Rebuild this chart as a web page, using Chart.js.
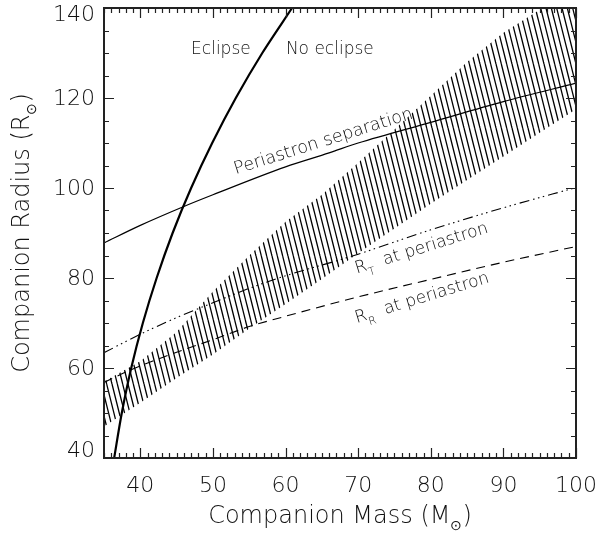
<!DOCTYPE html>
<html lang="en">
<head>
    <meta charset="UTF-8">
    <title>Companion Radius vs Mass</title>
    <script src="https://cdn.jsdelivr.net/npm/chart.js"></script>
    <style>
        body { margin: 0; background: #fff; }
        #wrap { width: 598px; height: 533px; position: relative; }
    </style>
</head>
<body>
    <div id="wrap"><canvas id="chart"></canvas></div>

    <script>
        // values
        const xTicks = [40, 50, 60, 70, 80, 90, 100];
        const yTicks = [40, 60, 80, 100, 120, 140];

        const eclipseMass = [36.4, 37.45, 38.75, 40.35, 42.25, 44.45, 47.0, 49.9, 53.15, 56.8, 60.9];
        const eclipseRadius = [40, 50, 60, 70, 80, 90, 100, 110, 120, 130, 140];

        const sepMass = [35, 40, 46, 50, 60, 66, 70, 80, 90, 100];
        const sepRadius = [87.8, 91.7, 95.9, 98.5, 104.7, 107.8, 110, 114.6, 119.2, 123.3];

        const rtMass = [35, 40, 45, 50, 55, 60, 67.4, 70, 80, 90, 100];
        const rtRadius = [63.4, 67.5, 71.2, 74.5, 77.7, 80.5, 84, 85.3, 90.7, 95.6, 100.1];

        const rrMass = [35, 38.7, 45, 50, 55, 60, 70, 80, 90, 100];
        const rrRadius = [56.8, 59.6, 63.5, 66.3, 69.2, 71.5, 75.8, 79.7, 83.5, 87];

        const bandMass = [35, 40, 45, 50, 55, 60, 65, 70, 75, 80, 85, 90, 95, 100];
        const bandLower = [47, 52.3, 57.8, 63, 68.8, 74.2, 79.8, 85.5, 91, 96.5, 101.8, 107, 112.3, 117.5];
        const bandUpper = [57, 61.5, 68, 77, 85, 92.5, 98.5, 105.6, 113, 120.5, 128, 134.5, 139.6, 145];

        const FONT = "'DejaVu Sans', sans-serif";
        const W = '200 ';
        const INK = '#111';

        function pts(xs, ys) {
            return xs.map((x, i) => ({ x: x, y: ys[i] }));
        }

        // steep "\" hatching used for the band
        function hatchPattern() {
            const tile = document.createElement('canvas');
            tile.width = 16;
            tile.height = 64;
            const c = tile.getContext('2d');
            c.strokeStyle = '#000';
            c.lineWidth = 1.3;
            for (let o = -32; o <= 32; o += 16 / 3) {
                c.beginPath();
                c.moveTo(o, 0);
                c.lineTo(o + 16, 64);
                c.stroke();
            }
            return c.createPattern(tile, 'repeat');
        }

        // frame with inward ticks on all four sides, plus y tick labels
        const framePlugin = {
            id: 'frame',
            afterDatasetsDraw(chart) {
                const ctx = chart.ctx;
                const a = chart.chartArea;
                const xs = chart.scales.x, ys = chart.scales.y;
                ctx.save();
                ctx.strokeStyle = '#222';
                ctx.lineWidth = 1.2;
                ctx.beginPath();
                for (let v = 35; v <= 100; v++) {
                    const px = Math.round(xs.getPixelForValue(v)) + 0.5;
                    const len = v % 10 === 0 ? 10 : 5;
                    ctx.moveTo(px, a.bottom); ctx.lineTo(px, a.bottom - len);
                    ctx.moveTo(px, a.top); ctx.lineTo(px, a.top + len);
                }
                for (let v = 40; v <= 140; v += 5) {
                    const py = Math.round(ys.getPixelForValue(v)) + 0.5;
                    const len = v % 20 === 0 ? 10 : 5;
                    ctx.moveTo(a.left, py); ctx.lineTo(a.left + len, py);
                    ctx.moveTo(a.right, py); ctx.lineTo(a.right - len, py);
                }
                ctx.stroke();
                ctx.lineWidth = 2;
                ctx.strokeRect(a.left, a.top, a.right - a.left, a.bottom - a.top);

                ctx.fillStyle = INK;
                ctx.font = W + '22px ' + FONT;
                ctx.textAlign = 'right';
                ctx.textBaseline = 'middle';
                yTicks.forEach(v => {
                    let py = ys.getPixelForValue(v) + 1.5;
                    py = Math.min(Math.max(py, a.top + 7), a.bottom - 7);
                    ctx.fillText(String(v), a.left - 9, py);
                });
                ctx.restore();
            }
        };

        // draws "main" then a lowered subscript then "tail", returns width
        function subText(ctx, x, y, main, sub, tail, size, subSize, drop, measureOnly) {
            ctx.font = W + size + 'px ' + FONT;
            const w1 = ctx.measureText(main).width;
            const w3 = ctx.measureText(tail).width;
            ctx.font = W + subSize + 'px ' + FONT;
            const w2 = ctx.measureText(sub).width;
            if (!measureOnly) {
                ctx.font = W + size + 'px ' + FONT;
                ctx.fillText(main, x, y);
                ctx.font = W + subSize + 'px ' + FONT;
                ctx.fillText(sub, x + w1, y + drop);
                ctx.font = W + size + 'px ' + FONT;
                ctx.fillText(tail, x + w1 + w2, y);
            }
            return w1 + w2 + w3;
        }

        const labelPlugin = {
            id: 'labels',
            afterDraw(chart) {
                const ctx = chart.ctx;
                const xs = chart.scales.x, ys = chart.scales.y;
                const a = chart.chartArea;
                ctx.save();
                ctx.fillStyle = INK;
                ctx.textBaseline = 'alphabetic';
                ctx.textAlign = 'left';

                // axis titles
                let w = subText(ctx, 0, 0, 'Companion Mass (M', '\u2299', ')', 24, 14, 7, true);
                subText(ctx, (a.left + a.right) / 2 - w / 2, 523, 'Companion Mass (M', '\u2299', ')', 24, 14, 7);

                w = subText(ctx, 0, 0, 'Companion Radius (R', '\u2299', ')', 24, 14, 7, true);
                ctx.save();
                ctx.translate(29, (a.top + a.bottom) / 2);
                ctx.rotate(-Math.PI / 2);
                subText(ctx, -w / 2, 0, 'Companion Radius (R', '\u2299', ')', 24, 14, 7);
                ctx.restore();

                // region labels
                ctx.font = W + '17px ' + FONT;
                ctx.textAlign = 'center';
                ctx.fillText('Eclipse', xs.getPixelForValue(51.1), ys.getPixelForValue(129.8));
                ctx.fillText('No eclipse', xs.getPixelForValue(66.1), ys.getPixelForValue(129.8));

                ctx.save();
                ctx.translate(xs.getPixelForValue(65.4), ys.getPixelForValue(109.3));
                ctx.rotate(-17.5 * Math.PI / 180);
                ctx.font = W + '17.5px ' + FONT;
                ctx.fillText('Periastron separation', 0, 0);
                ctx.restore();

                ctx.textAlign = 'left';
                ctx.save();
                ctx.translate(xs.getPixelForValue(69.8), ys.getPixelForValue(81.0));
                ctx.rotate(-17.3 * Math.PI / 180);
                subText(ctx, 0, 0, 'R', 'T', '  at periastron', 17, 11, 6);
                ctx.restore();

                ctx.save();
                ctx.translate(xs.getPixelForValue(69.8), ys.getPixelForValue(70.0));
                ctx.rotate(-17.1 * Math.PI / 180);
                subText(ctx, 0, 0, 'R', 'R', '  at periastron', 17, 11, 6);
                ctx.restore();

                ctx.restore();
            }
        };

        const noPad = s => { s.paddingLeft = 0; s.paddingRight = 0; s.paddingTop = 0; s.paddingBottom = 0; };

        const ctx = document.getElementById('chart').getContext('2d');
        const chart = new Chart(ctx, {
            type: 'line',
            data: {
                datasets: [
                    {
                        data: pts(bandMass, bandLower),
                        borderWidth: 0,
                        borderColor: 'rgba(0,0,0,0)',
                        pointRadius: 0,
                        fill: false,
                        order: 5
                    },
                    {
                        data: pts(bandMass, bandUpper),
                        borderWidth: 0,
                        borderColor: 'rgba(0,0,0,0)',
                        backgroundColor: hatchPattern(),
                        pointRadius: 0,
                        fill: 0,
                        order: 5
                    },
                    {
                        data: pts(eclipseMass, eclipseRadius),
                        borderColor: '#000',
                        borderWidth: 2.2,
                        pointRadius: 0,
                        tension: 0.3,
                        order: 1
                    },
                    {
                        data: pts(sepMass, sepRadius),
                        borderColor: '#000',
                        borderWidth: 1.2,
                        pointRadius: 0,
                        cubicInterpolationMode: 'monotone',
                        order: 1
                    },
                    {
                        data: pts(rtMass, rtRadius),
                        borderColor: '#000',
                        borderWidth: 1.1,
                        borderDash: [10, 4, 1.5, 3.5, 1.5, 3.5, 1.5, 4],
                        pointRadius: 0,
                        cubicInterpolationMode: 'monotone',
                        order: 1
                    },
                    {
                        data: pts(rrMass, rrRadius),
                        borderColor: '#000',
                        borderWidth: 1.1,
                        borderDash: [9, 6],
                        pointRadius: 0,
                        cubicInterpolationMode: 'monotone',
                        order: 1
                    }
                ]
            },
            options: {
                responsive: true,
                maintainAspectRatio: false,
                animation: false,
                layout: { padding: { top: 8, right: 22, left: 0, bottom: 0 } },
                plugins: {
                    legend: { display: false },
                    tooltip: { enabled: false }
                },
                scales: {
                    x: {
                        type: 'linear',
                        min: 35,
                        max: 100,
                        grid: { display: false, drawTicks: false },
                        border: { display: false },
                        afterBuildTicks: s => { s.ticks = xTicks.map(v => ({ value: v })); },
                        afterFit: s => { s.height = 75; noPad(s); },
                        ticks: {
                            color: INK,
                            padding: 15,
                            maxRotation: 0,
                            font: { family: FONT, size: 22, weight: 200 }
                        }
                    },
                    y: {
                        type: 'linear',
                        min: 40,
                        max: 140,
                        grid: { display: false, drawTicks: false },
                        border: { display: false },
                        afterBuildTicks: s => { s.ticks = yTicks.map(v => ({ value: v })); },
                        afterFit: s => { s.width = 104; noPad(s); },
                        ticks: { display: false }
                    }
                }
            },
            plugins: [framePlugin, labelPlugin]
        });
    </script>
</body>
</html>
